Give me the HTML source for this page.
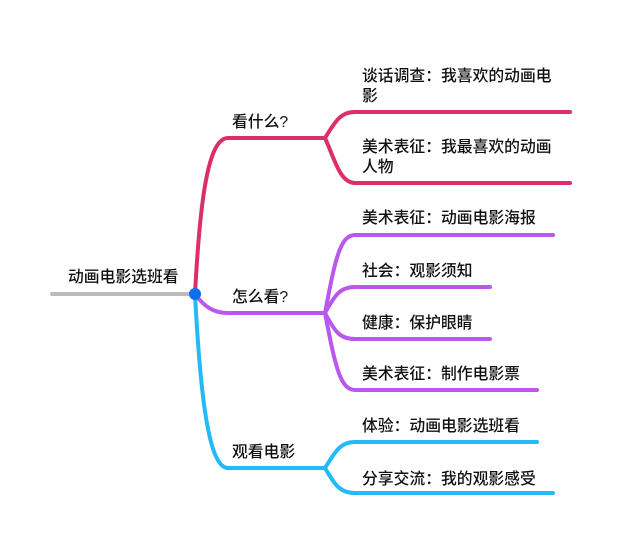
<!DOCTYPE html>
<html><head><meta charset="utf-8"><style>
html,body{margin:0;padding:0;background:#fff;width:620px;height:547px;overflow:hidden}
svg text{font-family:"Liberation Sans","Noto Sans CJK SC",sans-serif;font-size:15.8px;font-weight:500;fill:#111}
</style></head><body>
<svg width="620" height="547" viewBox="0 0 620 547" xmlns="http://www.w3.org/2000/svg">
<g fill="none" stroke-linecap="round" stroke-width="4">
<line x1="52" y1="294" x2="195" y2="294" stroke="#bbbbbb"/>
<g stroke="#dc2e6a">
<path d="M195 294 C200 200 208 138 228 138 L325 138"/>
<path d="M325 138 C335 122 340 112 355 112 L570 112"/>
<path d="M325 138 C335 160 340 183 355 183 L570 183"/>
</g>
<g stroke="#b957ee">
<path d="M195 294 C205 308 215 313 228 313 L325 313"/>
<path d="M325 313 C335 260 340 235 355 235 L553 235"/>
<path d="M325 313 C335 295 340 287 355 287 L490 287"/>
<path d="M325 313 C335 332 340 339 355 339 L490 339"/>
<path d="M325 313 C335 365 340 390 355 390 L537 390"/>
</g>
<g stroke="#24b9f7">
<path d="M195 294 C200 390 208 468 228 468 L325 468"/>
<path d="M325 468 C335 452 340 442 355 442 L537 442"/>
<path d="M325 468 C335 485 340 493 355 493 L553 493"/>
</g>
</g>
<circle cx="195" cy="294" r="6" fill="#0a6ff0"/>
<text x="68" y="282">动画电影选班看</text>
<text x="232" y="127">看什么?</text>
<text x="232" y="302">怎么看?</text>
<text x="232" y="457">观看电影</text>
<text x="362" y="81">谈话调查：我喜欢的动画电</text>
<text x="362" y="101">影</text>
<text x="362" y="152">美术表征：我最喜欢的动画</text>
<text x="362" y="172">人物</text>
<text x="362" y="223">美术表征：动画电影海报</text>
<text x="362" y="276">社会：观影须知</text>
<text x="362" y="328">健康：保护眼睛</text>
<text x="362" y="379">美术表征：制作电影票</text>
<text x="362" y="431">体验：动画电影选班看</text>
<text x="362" y="484">分享交流：我的观影感受</text>
</svg>
</body></html>
